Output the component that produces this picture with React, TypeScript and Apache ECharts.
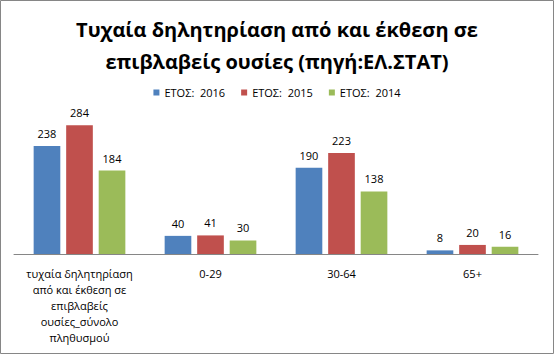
import React, { useEffect, useRef } from "react";
import * as echarts from "echarts";

const titleText = "Τυχαία δηλητηρίαση από και έκθεση σε\nεπιβλαβείς ουσίες (πηγή:ΕΛ.ΣΤΑΤ)";
const categories = [
  "τυχαία δηλητηρίαση από και έκθεση σε επιβλαβείς ουσίες_σύνολο πληθυσμού",
  "0-29",
  "30-64",
  "65+",
];
const categoryLabels = [
  "τυχαία δηλητηρίαση\nαπό και έκθεση σε\nεπιβλαβείς\nουσίες_σύνολο\nπληθυσμού",
  "0-29",
  "30-64",
  "65+",
];
const seriesNames = ["ΕΤΟΣ:  2016", "ΕΤΟΣ:  2015", "ΕΤΟΣ:  2014"];
const values2016 = [238, 40, 190, 8];
const values2015 = [284, 41, 223, 20];
const values2014 = [184, 30, 138, 16];
const colors = ["#4F81BD", "#C0504D", "#9BBB59"];

const FONT = "'Open Sans', 'Noto Sans', sans-serif";

export default function App() {
  const ref = useRef<HTMLDivElement>(null);
  useEffect(() => {
    if (!ref.current) return;
    const chart = echarts.init(ref.current, null, { renderer: "svg" });
    const allValues = [values2016, values2015, values2014];
    chart.setOption({
      animation: false,
      backgroundColor: "#ffffff",
      title: {
        text: titleText,
        left: "center",
        top: 8,
        textStyle: {
          fontFamily: FONT,
          fontSize: 20,
          fontWeight: "bold",
          color: "#000000",
          lineHeight: 32,
        },
      },
      legend: {
        top: 82,
        left: "center",
        itemWidth: 6,
        itemHeight: 6,
        itemGap: 16,
        icon: "rect",
        textStyle: { fontFamily: FONT, fontSize: 11, color: "#000000" },
        data: seriesNames,
      },
      grid: { left: 14, right: 16, top: 118, bottom: 100, containLabel: false },
      xAxis: {
        type: "category",
        data: categories,
        axisLine: { lineStyle: { color: "#868686", width: 1 } },
        axisTick: { show: false },
        axisLabel: {
          interval: 0,
          fontFamily: FONT,
          fontSize: 11,
          color: "#000000",
          lineHeight: 16,
          margin: 11,
          formatter: (_v: string, idx: number) => categoryLabels[idx],
        },
      },
      yAxis: {
        type: "value",
        min: 0,
        max: 300,
        show: false,
        splitLine: { show: false },
      },
      series: seriesNames.map((name, i) => ({
        name,
        type: "bar",
        data: allValues[i],
        barGap: "22%",
        barCategoryGap: "30%",
        itemStyle: { color: colors[i] },
        label: {
          show: true,
          position: "top",
          distance: 7,
          fontFamily: FONT,
          fontSize: 11,
          color: "#000000",
        },
      })),
      graphic: [
        {
          type: "rect",
          shape: { x: 0.5, y: 0.5, width: 553, height: 353 },
          style: { fill: "none", stroke: "#868686", lineWidth: 1 },
          silent: true,
          z: 100,
        },
      ],
    });
    return () => chart.dispose();
  }, []);
  return (
    <div
      ref={ref}
      style={{ position: "absolute", left: 0, top: 0, width: 554, height: 354 }}
    />
  );
}
